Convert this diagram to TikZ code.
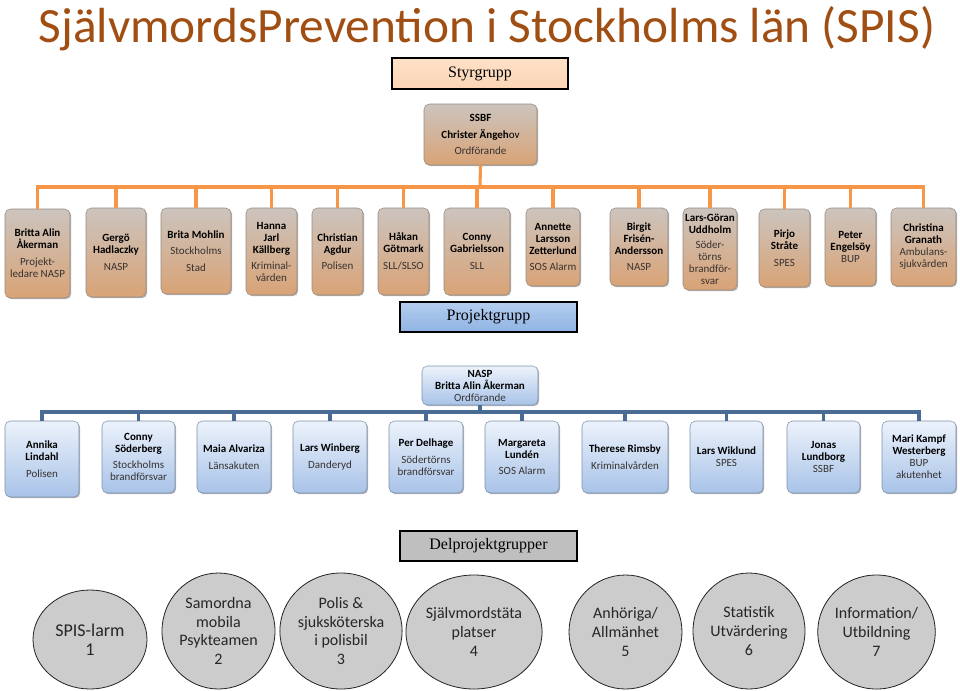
\documentclass[tikz,border=0pt]{standalone}
\usepackage{fontspec}
\usepackage{pdfrender}
\setmainfont{Carlito}
\newfontfamily\serifont{Liberation Serif}
\usetikzlibrary{shapes.geometric,shadows}
\definecolor{titedge}{RGB}{95,40,5}
\definecolor{titfill}{RGB}{160,78,18}
\definecolor{orline}{RGB}{247,150,70}
\definecolor{blline}{RGB}{74,108,148}
\definecolor{ttop}{RGB}{204,196,190}
\definecolor{tbot}{RGB}{217,163,118}
\definecolor{tbord}{RGB}{150,138,128}
\definecolor{btop}{RGB}{236,242,251}
\definecolor{bbot}{RGB}{168,195,232}
\definecolor{bbord}{RGB}{125,145,175}
\definecolor{rolec}{RGB}{55,50,48}
\definecolor{peach}{RGB}{252,213,181}
\definecolor{peachtop}{RGB}{253,225,200}
\definecolor{pblue}{RGB}{143,180,227}
\definecolor{pbluetop}{RGB}{180,205,238}
\definecolor{dgray}{RGB}{191,191,191}
\definecolor{cgray}{RGB}{204,204,204}
\definecolor{cedge}{RGB}{35,35,35}
\newcommand\mytitle{SjälvmordsPrevention i Stockholms län (SPIS)}
\newcommand\bnm[1]{\textbf{#1}}
\newcommand\rl[1]{\textcolor{rolec}{#1}}
\tikzset{
  titlestyle/.style={anchor=base, inner sep=0pt, font=\fontsize{37}{40}\selectfont},
  sz/.style 2 args={minimum width=#1*0.75pt, minimum height=#2*0.75pt},
  boxshadow/.style={drop shadow={shadow xshift=0.9pt, shadow yshift=-0.9pt, opacity=0.3, fill=black}},
  tbox/.style={rounded corners=4pt, draw=tbord, line width=0.4pt, top color=ttop, bottom color=tbot,
    font=\fontsize{8.25}{9}\selectfont, align=center, inner sep=1pt, boxshadow},
  bbox/.style={rounded corners=4pt, draw=bbord, line width=0.4pt, top color=btop, bottom color=bbot,
    font=\fontsize{8.25}{9}\selectfont, align=center, inner sep=1pt, boxshadow},
  sbox/.style={draw=black, line width=0.8pt, font=\serifont\fontsize{12}{14}\selectfont, inner sep=0pt},
  oline/.style={draw=orline, line width=2.3pt},
  bline/.style={draw=blline, line width=2.4pt},
  circ/.style={ellipse, draw=cedge, line width=0.6pt, fill=cgray, inner sep=0pt, align=center,
    text=black!85, font=\fontsize{12}{14}\selectfont},
}
\begin{document}
\begin{tikzpicture}[x=0.75pt,y=-0.75pt]
\useasboundingbox (0,0) rectangle (960,690);
\fill[white] (0,0) rectangle (960,690);

% title
\node[titlestyle, text=titfill] (title) at (487,42)
  {\textpdfrender{TextRenderingMode=FillStroke,LineWidth=0.8,StrokeColor=titedge}{\mytitle}};

% Styrgrupp
\node[sbox, sz={176}{31}, top color=peachtop, bottom color=peach] (styr) at (480,73.5) {Styrgrupp};

% SSBF
\node[tbox, sz={113}{61}, font=\fontsize{8.25}{12.4}\selectfont] (ssbf) at (480.5,134.5)
  {\bnm{SSBF}\\\bnm{Christer Ängeh}ov\\\rl{Ordförande}};

% top row
\node[tbox, sz={65}{89}] (t1) at (37.5,253.5) {\bnm{Britta Alin}\\\bnm{Åkerman}\\[3.5pt]\rl{Projekt-}\\\rl{ledare NASP}};
\node[tbox, sz={60}{89}] (t2) at (116,252.5) {\bnm{Gergö}\\\bnm{Hadlaczky}\\[3.5pt]\rl{NASP}};
\node[tbox, sz={70}{86}] (t3) at (196,251) {\bnm{Brita Mohlin}\\[3.5pt]\rl{Stockholms}\\[3.5pt]\rl{Stad}};
\node[tbox, sz={51}{87}] (t4) at (271.5,251.5) {\bnm{Hanna}\\\bnm{Jarl}\\\bnm{Källberg}\\[3pt]\rl{Kriminal-}\\\rl{vården}};
\node[tbox, sz={51}{87}] (t5) at (337.5,251.5) {\bnm{Christian}\\\bnm{Agdur}\\[3.5pt]\rl{Polisen}};
\node[tbox, sz={51}{87}] (t6) at (403.5,251.5) {\bnm{Håkan}\\\bnm{Götmark}\\[3.5pt]\rl{SLL/SLSO}};
\node[tbox, sz={66}{87}] (t7) at (477,251.5) {\bnm{Conny}\\\bnm{Gabrielsson}\\[3.5pt]\rl{SLL}};
\node[tbox, sz={54}{78}] (t8) at (553,247) {\bnm{Annette}\\\bnm{Larsson}\\\bnm{Zetterlund}\\[3pt]\rl{SOS Alarm}};
\node[tbox, sz={58}{78}] (t9) at (639,247) {\bnm{Birgit}\\\bnm{Frisén-}\\\bnm{Andersson}\\[3pt]\rl{NASP}};
\node[tbox, sz={54}{82}] (t10) at (710,249) {\bnm{Lars-Göran}\\\bnm{Uddholm}\\[2.5pt]\rl{Söder-}\\\rl{törns}\\\rl{brandför-}\\\rl{svar}};
\node[tbox, sz={51}{78}] (t11) at (784.5,248) {\bnm{Pirjo}\\\bnm{Stråte}\\[3.5pt]\rl{SPES}};
\node[tbox, sz={51}{78}] (t12) at (850.5,247) {\bnm{Peter}\\\bnm{Engelsöy}\\\rl{BUP}};
\node[tbox, sz={65}{78}] (t13) at (923.5,247) {\bnm{Christina}\\\bnm{Granath}\\\rl{Ambulans-}\\\rl{sjukvården}};

% orange connectors
\coordinate (ob) at (480,187);
\draw[oline] (ssbf.south) -- (ob);
\draw[oline, line join=miter] (t1.north) -- (t1.north |- ob) -- (t13.north |- ob) -- (t13.north);
\foreach \i in {2,...,12}
  \draw[oline] (t\i.north |- ob) -- (t\i.north);

% Projektgrupp
\node[sbox, sz={177}{30}, top color=pbluetop, bottom color=pblue] (proj) at (488.5,317) {Projektgrupp};

% NASP
\node[bbox, sz={116}{39}] (nasp) at (480,385.5) {\bnm{NASP}\\\bnm{Britta Alin Åkerman}\\\rl{Ordförande}};

% bottom row
\node[bbox, sz={74}{76}] (b1) at (42,459) {\bnm{Annika}\\\bnm{Lindahl}\\[3.5pt]\rl{Polisen}};
\node[bbox, sz={73}{72}] (b2) at (138.5,457) {\bnm{Conny}\\\bnm{Söderberg}\\[3.5pt]\rl{Stockholms}\\\rl{brandförsvar}};
\node[bbox, sz={74}{72}] (b3) at (234,457) {\bnm{Maia Alvariza}\\[3.5pt]\rl{Länsakuten}};
\node[bbox, sz={74}{72}] (b4) at (330,457) {\bnm{Lars Winberg}\\[3.5pt]\rl{Danderyd}};
\node[bbox, sz={74}{72}] (b5) at (426,457) {\bnm{Per Delhage}\\[3.5pt]\rl{Södertörns}\\\rl{brandförsvar}};
\node[bbox, sz={74}{72}] (b6) at (522,457) {\bnm{Margareta}\\\bnm{Lundén}\\[3.5pt]\rl{SOS Alarm}};
\node[bbox, sz={86}{72}] (b7) at (625,457) {\bnm{Therese Rimsby}\\[3.5pt]\rl{Kriminalvården}};
\node[bbox, sz={73}{72}] (b8) at (726.5,457) {\bnm{Lars Wiklund}\\\rl{SPES}};
\node[bbox, sz={73}{72}] (b9) at (823.5,457) {\bnm{Jonas}\\\bnm{Lundborg}\\\rl{SSBF}};
\node[bbox, sz={74}{72}] (b10) at (919,457) {\bnm{Mari Kampf}\\\bnm{Westerberg}\\\rl{BUP}\\\rl{akutenhet}};

% blue connectors
\coordinate (bb) at (480,412);
\draw[bline] (nasp.south) -- (bb);
\draw[bline, line join=miter] (b1.north) -- (b1.north |- bb) -- (b10.north |- bb) -- (b10.north);
\foreach \i in {2,...,9}
  \draw[bline] (b\i.north |- bb) -- (b\i.north);

% Delprojektgrupper
\node[sbox, sz={177}{30}, fill=dgray] (delp) at (488.5,546) {Delprojektgrupper};

% circles
\node[circ, sz={114}{99}, font=\fontsize{13.5}{14}\selectfont] (c1) at (90,639.5) {SPIS-larm\\1};
\node[circ, sz={113}{116}] (c2) at (218.5,631) {Samordna\\mobila\\Psykteamen\\2};
\node[circ, sz={108}{116}] (c3) at (341,631) {Polis \&\\sjuksköterska\\i polisbil\\3};
\node[circ, sz={122}{114}] (c4) at (474,632) {Självmordstäta\\platser\\4};
\node[circ, sz={113}{114}] (c5) at (625.5,632) {Anhöriga/\\Allmänhet\\5};
\node[circ, sz={112}{116}] (c6) at (749,631) {Statistik\\Utvärdering\\6};
\node[circ, sz={113}{114}] (c7) at (876.5,632) {Information/\\Utbildning\\7};
\end{tikzpicture}
\end{document}
